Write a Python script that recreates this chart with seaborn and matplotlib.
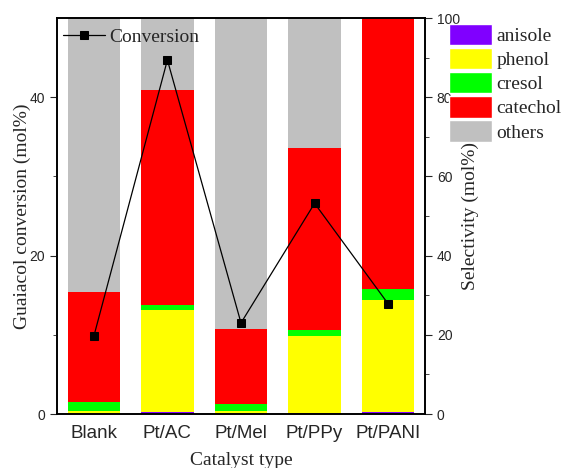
import matplotlib
matplotlib.use("Agg")
import matplotlib.pyplot as plt
from matplotlib.patches import Patch
import seaborn as sns
import pandas as pd
import numpy as np

catalysts = ["Blank", "Pt/AC", "Pt/Mel", "Pt/PPy", "Pt/PANI"]
conversion = [9.8, 44.7, 11.5, 26.6, 13.9]

# selectivity (mol%) per product
anisole = [0.0, 0.4, 0.0, 0.3, 0.6]
phenol = [0.8, 25.9, 0.8, 19.4, 28.2]
cresol = [2.2, 1.2, 1.7, 1.5, 2.8]
catechol = [27.7, 54.3, 18.9, 45.9, 68.4]
others = [69.3, 18.2, 78.6, 32.9, 0.0]

products = ["anisole", "phenol", "cresol", "catechol", "others"]
colors = ["#8000FF", "#FFFF00", "#00FF00", "#FF0000", "#C0C0C0"]

sns.set_style("ticks")
serif = ["Liberation Serif", "DejaVu Serif"]
sans = ["Liberation Sans", "DejaVu Sans"]

fig, ax = plt.subplots(figsize=(5.66, 4.68), dpi=100)
fig.subplots_adjust(left=57 / 566, right=425 / 566, bottom=1 - 414 / 468, top=1 - 18 / 468)
axl = ax.twinx()

# stacked bars: draw cumulative totals, tallest first
sel = np.array([anisole, phenol, cresol, catechol, others])
cum = np.cumsum(sel, axis=0)
for i in range(len(products) - 1, -1, -1):
    df = pd.DataFrame({"catalyst": catalysts, "value": cum[i]})
    sns.barplot(data=df, x="catalyst", y="value", color=colors[i], saturation=1,
                width=0.71, ax=ax, edgecolor="none")

ax.set_ylim(0, 100)
ax.set_xlim(-0.5, 4.5)
ax.yaxis.tick_right()
ax.yaxis.set_label_position("right")
ax.set_yticks([0, 20, 40, 60, 80, 100])
ax.set_yticks([10, 30, 50, 70, 90], minor=True)
ax.set_ylabel("Selectivity (mol%)", fontfamily=serif, fontsize=14, labelpad=1)
ax.set_xlabel("Catalyst type", fontfamily=serif, fontsize=14, labelpad=7)
ax.tick_params(axis="x", length=0, labelsize=13.5, pad=8)
ax.tick_params(axis="y", which="major", length=5, labelsize=10, direction="out")
ax.tick_params(axis="y", which="minor", length=3, direction="out")
for lbl in ax.get_xticklabels() + ax.get_yticklabels():
    lbl.set_fontfamily(sans)

# conversion on the left axis
sns.lineplot(x=np.arange(len(catalysts)), y=conversion, ax=axl, color="black",
             marker="s", markersize=6, markeredgecolor="black", linewidth=0.9,
             label="Conversion")
axl.yaxis.tick_left()
axl.yaxis.set_label_position("left")
axl.set_ylim(0, 50)
axl.set_xlim(-0.5, 4.5)
axl.set_yticks([0, 20, 40])
axl.set_yticks([10, 30], minor=True)
axl.set_ylabel("Guaiacol conversion (mol%)", fontfamily=serif, fontsize=14, labelpad=-1)
axl.tick_params(axis="y", which="major", length=5, labelsize=10, direction="out")
axl.tick_params(axis="y", which="minor", length=3, direction="out")
for lbl in axl.get_yticklabels():
    lbl.set_fontfamily(sans)
for a in (ax, axl):
    for s in a.spines.values():
        s.set_visible(True)
        s.set_linewidth(1.2)
        s.set_color("black")

axl.legend(loc="upper left", bbox_to_anchor=(-0.014, 1.0), frameon=False,
           prop={"family": serif, "size": 14}, handlelength=2.2, borderpad=0,
           borderaxespad=0.55, handletextpad=0.2)

handles = [Patch(facecolor=c, edgecolor="white") for c in colors]
fig.legend(handles, products, loc="upper left", bbox_to_anchor=(449 / 566, 1 - 24 / 468),
           frameon=False, prop={"family": serif, "size": 14}, handlelength=2.2,
           handleheight=1.3, labelspacing=0.15, borderpad=0, borderaxespad=0,
           handletextpad=0.25)

fig.savefig("out.png", dpi=100)
